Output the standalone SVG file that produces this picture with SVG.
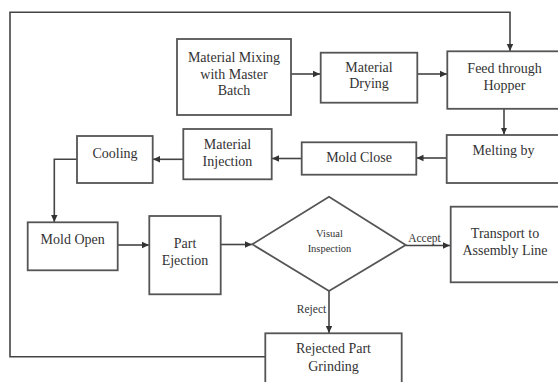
<svg xmlns="http://www.w3.org/2000/svg" width="558" height="382" viewBox="0 0 558 382">
<defs>
<marker id="ah" markerWidth="8" markerHeight="8" refX="7" refY="4" orient="auto" markerUnits="userSpaceOnUse">
<path d="M0,0.8 L7,4 L0,7.2 Z" fill="#333"/>
</marker>
<style>
.box{fill:#fff;stroke:#555;stroke-width:1.8}
.t{font-family:"Liberation Serif","Times New Roman",serif;font-size:14px;fill:#333;text-anchor:middle}
.s{font-family:"Liberation Serif","Times New Roman",serif;font-size:10.5px;fill:#333;text-anchor:middle}
.l{font-family:"Liberation Serif","Times New Roman",serif;font-size:11.5px;fill:#333;text-anchor:middle}
.c{fill:none;stroke:#444;stroke-width:1.6}
</style>
</defs>
<rect width="558" height="382" fill="#fff"/>
<g id="connectors">
<polyline class="c" points="265,356.7 10,356.7 10,12.3 510,12.3 510,51" marker-end="url(#ah)"/>
<line class="c" x1="291" y1="74" x2="320" y2="74" marker-end="url(#ah)"/>
<line class="c" x1="417.3" y1="74" x2="447" y2="74" marker-end="url(#ah)"/>
<line class="c" x1="504" y1="109" x2="504" y2="134.5" marker-end="url(#ah)"/>
<line class="c" x1="446.7" y1="158" x2="416.5" y2="158" marker-end="url(#ah)"/>
<line class="c" x1="301.7" y1="158.5" x2="272" y2="158.5" marker-end="url(#ah)"/>
<line class="c" x1="183.3" y1="159.3" x2="153" y2="159.3" marker-end="url(#ah)"/>
<polyline class="c" points="77,159.3 54.3,159.3 54.3,222" marker-end="url(#ah)"/>
<line class="c" x1="117.7" y1="245" x2="149" y2="245" marker-end="url(#ah)"/>
<line class="c" x1="220.7" y1="244.5" x2="252" y2="244.5" marker-end="url(#ah)"/>
<line class="c" x1="405.7" y1="245.5" x2="450" y2="245.5" marker-end="url(#ah)"/>
<line class="c" x1="329" y1="291" x2="329" y2="333" marker-end="url(#ah)"/>
<text class="l" x="424.5" y="242">Accept</text>
<text class="l" x="311.5" y="312.5">Reject</text>
</g>
<g id="mixing">
<rect class="box" x="177" y="39" width="114" height="76"/>
<text class="t" x="234" y="62">Material Mixing</text>
<text class="t" x="234" y="79">with Master</text>
<text class="t" x="234" y="95">Batch</text>
</g>
<g id="drying">
<rect class="box" x="320.7" y="52.7" width="96.6" height="50"/>
<text class="t" x="369" y="72">Material</text>
<text class="t" x="369" y="88">Drying</text>
</g>
<g id="feed">
<rect class="box" x="447.3" y="51.3" width="114" height="57.5"/>
<text class="t" x="504.5" y="73">Feed through</text>
<text class="t" x="504.5" y="90">Hopper</text>
</g>
<g id="melting">
<rect class="box" x="446.7" y="135" width="114" height="48"/>
<text class="t" x="503.5" y="155">Melting by</text>
</g>
<g id="moldclose">
<rect class="box" x="301.7" y="142.3" width="114.6" height="32.4"/>
<text class="t" x="359" y="162">Mold Close</text>
</g>
<g id="injection">
<rect class="box" x="183.3" y="129" width="88.4" height="50.3"/>
<text class="t" x="227.5" y="149">Material</text>
<text class="t" x="227.5" y="166">Injection</text>
</g>
<g id="cooling">
<rect class="box" x="77" y="136" width="75.7" height="47"/>
<text class="t" x="115" y="158">Cooling</text>
</g>
<g id="moldopen">
<rect class="box" x="27.7" y="222.3" width="90" height="48"/>
<text class="t" x="72.7" y="244">Mold Open</text>
</g>
<g id="ejection">
<rect class="box" x="149.3" y="216" width="71.4" height="78.3"/>
<text class="t" x="185" y="248">Part</text>
<text class="t" x="185" y="265">Ejection</text>
</g>
<g id="inspection">
<polygon class="box" points="252.3,244.3 329,196.7 405.7,245 329,291"/>
<text class="s" x="329.5" y="237">Visual</text>
<text class="s" x="329.5" y="252">Inspection</text>
</g>
<g id="transport">
<rect class="box" x="450.7" y="206.7" width="110" height="75.6"/>
<text class="t" x="505" y="238">Transport to</text>
<text class="t" x="505" y="255">Assembly Line</text>
</g>
<g id="grinding">
<rect class="box" x="265.3" y="333.3" width="136.4" height="60"/>
<text class="t" x="333.5" y="353">Rejected Part</text>
<text class="t" x="333.5" y="371">Grinding</text>
</g>
</svg>
